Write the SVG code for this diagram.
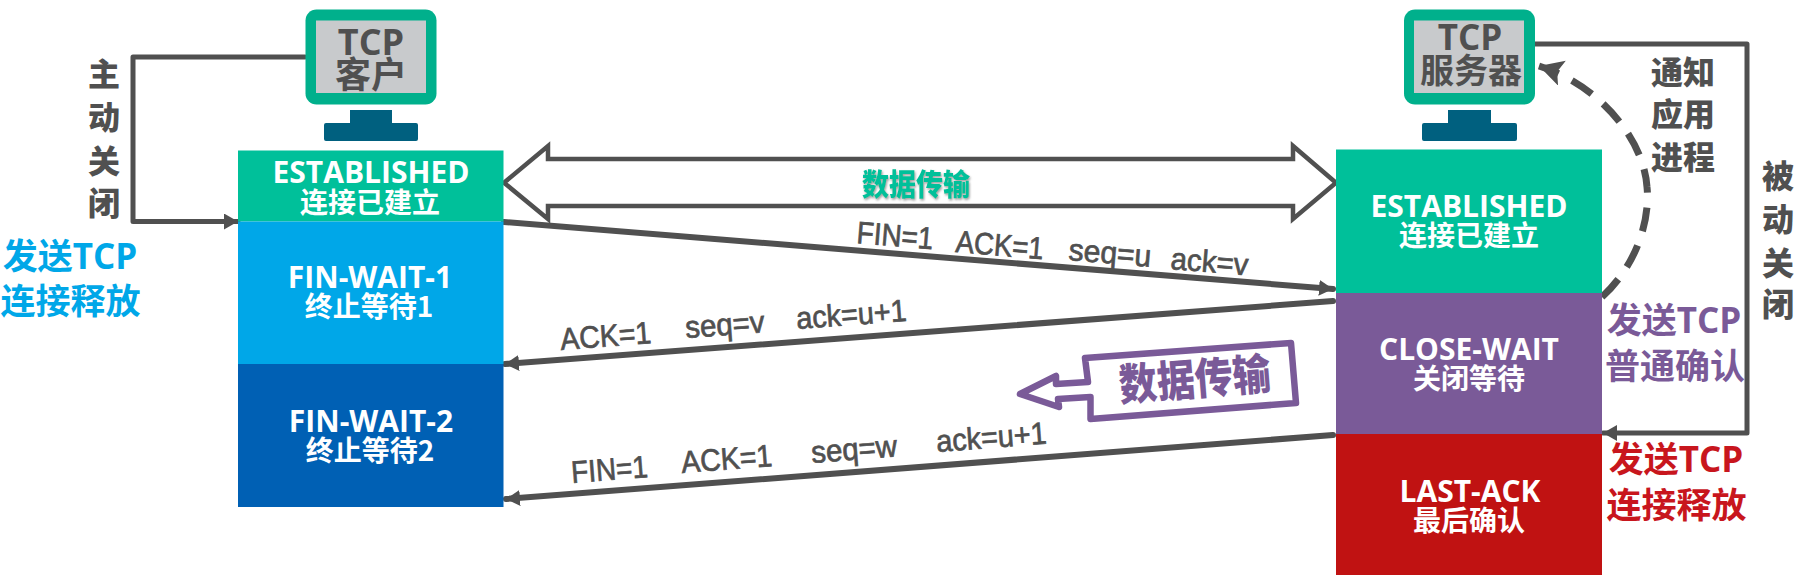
<svg xmlns="http://www.w3.org/2000/svg" width="1805" height="575" viewBox="0 0 1805 575">
<style>
text{font-family:"Open Sans","Noto Sans","Noto Sans CJK SC",sans-serif;font-weight:700}
.st{fill:#fff;font-size:30px;font-weight:700;text-anchor:middle}
.cn{fill:#fff;font-size:28px;text-anchor:middle;font-family:"Noto Sans CJK SC",sans-serif;font-weight:700}
.mon{fill:#505050;text-anchor:middle}
.cjk{font-family:"Noto Sans CJK SC",sans-serif}
.side{font-size:35px;font-weight:700;text-anchor:middle}
.v{fill:#505050;font-size:32px;text-anchor:middle;font-family:"Noto Sans CJK SC",sans-serif;font-weight:900}
.msg{fill:#505050;font-family:"Liberation Sans",Arial,sans-serif;font-size:31px;font-weight:400;stroke:#505050;stroke-width:.7}
.ln{fill:none;stroke:#505050;stroke-width:5;stroke-linejoin:round;stroke-linecap:round}
.th{stroke-width:6}
.scr{fill:#c8cacc}.bez{fill:#00b08c}.std{fill:#00607f}
</style>
<defs>
<marker id="ah" markerUnits="userSpaceOnUse" markerWidth="16" markerHeight="18" refX="14" refY="8" orient="auto"><path d="M0 0L14 8L0 16Z" fill="#505050"/></marker>
<marker id="ad" markerUnits="userSpaceOnUse" markerWidth="26" markerHeight="28" refX="24" refY="13" orient="auto"><path d="M0 0L24 13L0 26L5 13Z" fill="#505050"/></marker>
<filter id="glow" x="-10%" y="-20%" width="120%" height="140%"><feDropShadow dx="1" dy="1.5" stdDeviation="1" flood-color="#777" flood-opacity=".7"/></filter>
</defs>

<g id="connectors">
<path class="ln" marker-end="url(#ah)" d="M305 57H133V221.500H238"/>
<path class="ln" marker-end="url(#ah)" d="M1535 44H1747V433H1603"/>
<path d="M504 182.700L548 146V159H1293V146L1336 182.700L1293 219V206H548V219Z" fill="#fff" stroke="#505050" stroke-width="4.500" stroke-linejoin="miter"/>
<path class="ln th" marker-end="url(#ah)" d="M504 222L1333 289"/>
<path class="ln th" marker-end="url(#ah)" d="M1333 301L505 364"/>
<path class="ln th" marker-end="url(#ah)" d="M1333 435L506 499"/>
<path fill="none" stroke="#505050" stroke-width="7" stroke-dasharray="24 15" marker-end="url(#ad)" d="M1602 297C1640 262 1650 215 1647 187C1644 140 1600 85 1539 66"/>
</g>

<g id="client">
<rect class="bez" x="305.500" y="9.500" width="131" height="95" rx="11"/>
<rect class="scr" x="316" y="20.500" width="110" height="72.500"/>
<path class="std" d="M350 110H392V123H416Q418 123 418 125V139Q418 141 416 141H326Q324 141 324 139V125Q324 123 326 123H350Z"/>
<text class="mon" x="371" y="55" font-size="36">TCP</text>
<text class="mon cjk" x="371" y="88" font-size="36">客户</text>
</g>
<g id="server">
<rect class="bez" x="1404" y="9.500" width="131" height="95" rx="11"/>
<rect class="scr" x="1414" y="20.500" width="110" height="72.500"/>
<path class="std" d="M1448 110H1491V123H1515Q1517 123 1517 125V139Q1517 141 1515 141H1424Q1422 141 1422 139V125Q1422 123 1424 123H1448Z"/>
<text class="mon" x="1470" y="50" font-size="35">TCP</text>
<text class="mon cjk" x="1471" y="83" font-size="34">服务器</text>
</g>

<g id="c-established"><rect x="238" y="150.500" width="265.500" height="71" fill="#00c09a"/>
<text class="st" x="371" y="183">ESTABLISHED</text><text class="cn" x="370" y="213">连接已建立</text></g>
<g id="c-finwait1"><rect x="238" y="221.500" width="265.500" height="142.500" fill="#00a7e8"/>
<text class="st" x="370" y="288">FIN-WAIT-1</text><text class="cn" x="369" y="317">终止等待1</text></g>
<g id="c-finwait2"><rect x="238" y="364" width="265.500" height="143" fill="#0060b4"/>
<text class="st" x="371" y="432">FIN-WAIT-2</text><text class="cn" x="370" y="461">终止等待2</text></g>
<g id="s-established"><rect x="1336" y="149.500" width="266" height="143.500" fill="#00c09a"/>
<text class="st" x="1469" y="217">ESTABLISHED</text><text class="cn" x="1469" y="246">连接已建立</text></g>
<g id="s-closewait"><rect x="1336" y="293" width="266" height="141" fill="#7a5a98"/>
<text class="st" x="1469" y="360">CLOSE-WAIT</text><text class="cn" x="1469" y="389">关闭等待</text></g>
<g id="s-lastack"><rect x="1336" y="434" width="266" height="141" fill="#c01212"/>
<text class="st" x="1470" y="502">LAST-ACK</text><text class="cn" x="1469" y="531">最后确认</text></g>

<g id="labels">
<text class="v" x="104" y="86">主</text><text class="v" x="104" y="129">动</text><text class="v" x="104" y="173">关</text><text class="v" x="104" y="215">闭</text>
<text class="v" x="1683" y="84">通知</text><text class="v" x="1683" y="126">应用</text><text class="v" x="1683" y="169">进程</text>
<text class="v" x="1778" y="188">被</text><text class="v" x="1778" y="231">动</text><text class="v" x="1778" y="275">关</text><text class="v" x="1778" y="316">闭</text>
<g fill="#00a7e8"><text class="side" x="70" y="269">发送TCP</text><text class="side" x="70.500" y="314">连接释放</text></g>
<g fill="#7a5a98"><text class="side" x="1674" y="333">发送TCP</text><text class="side" x="1675" y="379">普通确认</text></g>
<g fill="#c8161d"><text class="side" x="1676" y="472">发送TCP</text><text class="side" x="1676.500" y="518">连接释放</text></g>
<text transform="translate(916 195) scale(1 1.1)" text-anchor="middle" font-size="27" fill="#00c09a" filter="url(#glow)" style="font-family:'Noto Sans CJK SC',sans-serif;font-weight:900">数据传输</text>
</g>

<g id="messages">
<text class="msg" transform="translate(856 243) rotate(4.7) scale(.9 1)">FIN=1</text>
<text class="msg" transform="translate(955 252) rotate(4.7) scale(.89 1)">ACK=1</text>
<text class="msg" transform="translate(1068 260) rotate(4.7) scale(.97 1)">seq=u</text>
<text class="msg" transform="translate(1170 269) rotate(4.7) scale(.95 1)">ack=v</text>
<text class="msg" transform="translate(561 350) rotate(-4.3) scale(.92 1)">ACK=1</text>
<text class="msg" transform="translate(686 338) rotate(-4.3) scale(.95 1)">seq=v</text>
<text class="msg" transform="translate(797 329) rotate(-4.3) scale(.93 1)">ack=u+1</text>
<text class="msg" transform="translate(572 483) rotate(-4.4) scale(.9 1)">FIN=1</text>
<text class="msg" transform="translate(682 473) rotate(-4.4) scale(.92 1)">ACK=1</text>
<text class="msg" transform="translate(812 463) rotate(-4.4) scale(.95 1)">seq=w</text>
<text class="msg" transform="translate(937 452) rotate(-4.4) scale(.93 1)">ack=u+1</text>
</g>

<g id="callout">
<path d="M1085 358L1291 343L1296 403L1090.500 419L1090.500 397L1058 399L1059 407L1020 394L1056 376L1056 384L1088 382Z" fill="#fff" stroke="#7a5a98" stroke-width="6.500" stroke-linejoin="round"/>
<text transform="translate(1196 395) rotate(-4.500) scale(1 1.15)" text-anchor="middle" font-size="38" fill="#7a5a98" style="font-family:'Noto Sans CJK SC',sans-serif;font-weight:900">数据传输</text>
</g>
</svg>
